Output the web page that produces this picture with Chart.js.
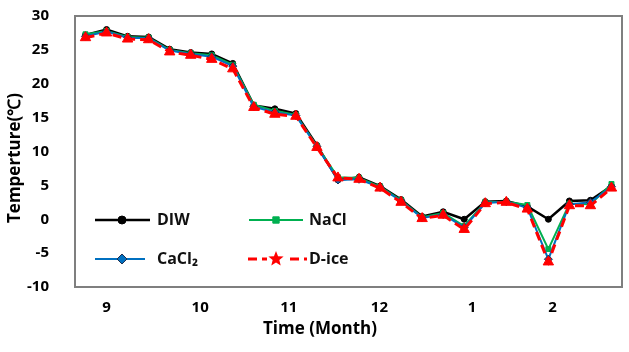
<!DOCTYPE html>
<html>
<head>
<meta charset="utf-8">
<script src="https://cdn.jsdelivr.net/npm/chart.js@4"></script>
<style>
  body { margin: 0; background: #fff; }
  canvas { display: block; }
</style>
</head>
<body>
<canvas id="chartSuhu" width="629" height="352"></canvas>
<script>
// data (perkiraan)
const diw   = [27.2, 28.0, 27.0, 26.9, 25.1, 24.6, 24.4, 23.0, 16.8, 16.3, 15.6, 10.9, 5.8, 6.2, 4.9, 2.9, 0.4, 1.1, 0.0, 2.6, 2.7, 1.9, 0.0, 2.7, 2.8, 4.9];
const nacl  = [27.3, 27.8, 26.9, 26.8, 25.0, 24.5, 24.2, 22.8, 16.9, 16.0, 15.4, 10.8, 6.2, 6.1, 4.8, 2.8, 0.3, 0.9, -1.0, 2.5, 2.6, 2.1, -4.4, 2.3, 2.2, 5.2];
const cacl2 = [27.0, 27.7, 26.8, 26.7, 24.9, 24.4, 24.0, 22.6, 16.6, 15.8, 15.3, 10.7, 5.8, 5.9, 4.7, 2.7, 0.2, 0.7, -1.2, 2.4, 2.6, 1.7, -5.9, 2.2, 2.5, 4.8];
const dice  = [26.8, 27.5, 26.6, 26.5, 24.7, 24.2, 23.6, 22.2, 16.5, 15.5, 15.2, 10.6, 6.1, 5.9, 4.6, 2.5, 0.1, 0.6, -1.5, 2.3, 2.5, 1.5, -6.3, 2.0, 2.0, 4.6];

const monthLabels = ['9', '10', '11', '12', '1', '2'];
const monthPos = [1, 5.45, 9.66, 13.97, 18.37, 22.2]; // posisi label bulan (indeks titik)

const toXY = arr => arr.map((v, i) => ({ x: i, y: v }));
const FONT = "'Open Sans', sans-serif";

// frame kotak abu-abu di sekeliling area plot
const frame = {
    id: 'frame',
    afterDatasetsDraw(chart) {
        const c = chart.ctx, a = chart.chartArea;
        c.save();
        c.setLineDash([]);
        c.globalAlpha = 1;
        c.strokeStyle = '#7f7f7f';
        c.lineWidth = 2;
        c.beginPath();
        c.moveTo(a.left, a.top);
        c.lineTo(a.right, a.top);
        c.lineTo(a.right, a.bottom);
        c.lineTo(a.left, a.bottom);
        c.closePath();
        c.stroke();
        c.restore();
    }
};

// legenda di dalam plot + judul sumbu
const extras = {
    id: 'extras',
    afterDraw(chart) {
        const c = chart.ctx;
        c.save();
        const items = [
            { ds: 0, x1: 95,  x2: 150, mx: 122, tx: 157, y: 220, text: 'DIW' },
            { ds: 1, x1: 249, x2: 303, mx: 276, tx: 309, y: 220, text: 'NaCl' },
            { ds: 2, x1: 95,  x2: 145, mx: 122, tx: 157, y: 259, text: 'CaCl₂' },
            { ds: 3, x1: 248, x2: 307, mx: 276, tx: 309, y: 259, text: 'D-ice', star: true }
        ];
        items.forEach(it => {
            const d = chart.data.datasets[it.ds];
            c.save();
            c.strokeStyle = d.borderColor;
            c.lineWidth = d.borderWidth;
            c.setLineDash(d.borderDash || []);
            c.beginPath();
            c.moveTo(it.x1, it.y);
            c.lineTo(it.x2, it.y);
            c.stroke();
            c.restore();
            if (it.star) {
                c.fillStyle = '#fff';
                c.fillRect(it.mx - 9, it.y - 9, 18, 18);
                c.fillStyle = d.pointBackgroundColor;
                c.beginPath();
                for (let k = 0; k < 10; k++) {
                    const r = k % 2 === 0 ? 8 : 3.5;
                    const ang = -Math.PI / 2 + k * Math.PI / 5;
                    c.lineTo(it.mx + r * Math.cos(ang), it.y + r * Math.sin(ang));
                }
                c.closePath();
                c.fill();
            } else {
                c.fillStyle = d.pointBackgroundColor;
                c.strokeStyle = d.pointBorderColor;
                c.lineWidth = d.pointBorderWidth;
                Chart.helpers.drawPoint(c, {
                    pointStyle: d.pointStyle, radius: d.pointRadius + 1, rotation: 0, borderWidth: d.pointBorderWidth
                }, it.mx, it.y);
            }
            c.fillStyle = '#111';
            c.font = 'bold 16px ' + FONT;
            c.textAlign = 'left';
            c.textBaseline = 'middle';
            c.fillText(it.text, it.tx, it.y);
        });

        c.fillStyle = '#000';
        c.font = 'bold 17px ' + FONT;
        c.textAlign = 'center';
        c.textBaseline = 'middle';
        c.fillText('Time (Month)', 320, 329);
        c.translate(15, 158);
        c.rotate(-Math.PI / 2);
        c.fillText('Temperture(℃)', 0, 0);
        c.restore();
    }
};

const ctx = document.getElementById('chartSuhu').getContext('2d');
const chartSuhu = new Chart(ctx, {
    type: 'line',
    data: {
        datasets: [
            {
                label: 'DIW',
                data: toXY(diw),
                borderColor: '#000000',
                borderWidth: 2.5,
                pointStyle: 'circle',
                pointRadius: 3,
                pointBackgroundColor: '#000000',
                pointBorderColor: '#000000',
                pointBorderWidth: 1,
                order: 3
            },
            {
                label: 'NaCl',
                data: toXY(nacl),
                borderColor: '#00B050',
                borderWidth: 2,
                pointStyle: 'rect',
                pointRadius: 3.5,
                pointBackgroundColor: '#00B050',
                pointBorderColor: '#00B050',
                pointBorderWidth: 1,
                order: 2
            },
            {
                label: 'CaCl2',
                data: toXY(cacl2),
                borderColor: '#0070C0',
                borderWidth: 2,
                pointStyle: 'rectRot',
                pointRadius: 4,
                pointBackgroundColor: '#0070C0',
                pointBorderColor: '#1F2F4F',
                pointBorderWidth: 1,
                order: 1
            },
            {
                label: 'D-ice',
                data: toXY(dice),
                borderColor: '#FF0000',
                borderWidth: 3,
                borderDash: [9, 5],
                pointStyle: 'triangle',
                pointRadius: 6,
                pointBackgroundColor: '#FF0000',
                pointBorderColor: '#FF0000',
                pointBorderWidth: 1,
                order: 0
            }
        ]
    },
    options: {
        responsive: false,
        animation: false,
        layout: { padding: { top: 16, right: 5, left: 0, bottom: 0 } },
        plugins: {
            legend: { display: false },
            tooltip: { enabled: false }
        },
        scales: {
            x: {
                type: 'linear',
                min: -0.5,
                max: 25.5,
                grid: { display: false, drawTicks: false },
                border: { display: false },
                afterBuildTicks: s => { s.ticks = monthPos.map(v => ({ value: v })); },
                afterFit: s => { s.height = 65; s.paddingLeft = 0; s.paddingRight = 0; },
                ticks: {
                    autoSkip: false,
                    maxRotation: 0,
                    padding: 12,
                    color: '#000',
                    font: { family: FONT, size: 15, weight: 'bold' },
                    callback: (v, i) => monthLabels[i]
                }
            },
            y: {
                min: -10,
                max: 30,
                grid: { display: false, drawTicks: false },
                border: { display: false },
                afterFit: s => { s.width = 75; s.paddingTop = 0; s.paddingBottom = 0; },
                ticks: {
                    stepSize: 5,
                    padding: 26,
                    color: '#000',
                    font: { family: FONT, size: 15, weight: 'bold' }
                }
            }
        }
    },
    plugins: [frame, extras]
});
</script>
</body>
</html>
